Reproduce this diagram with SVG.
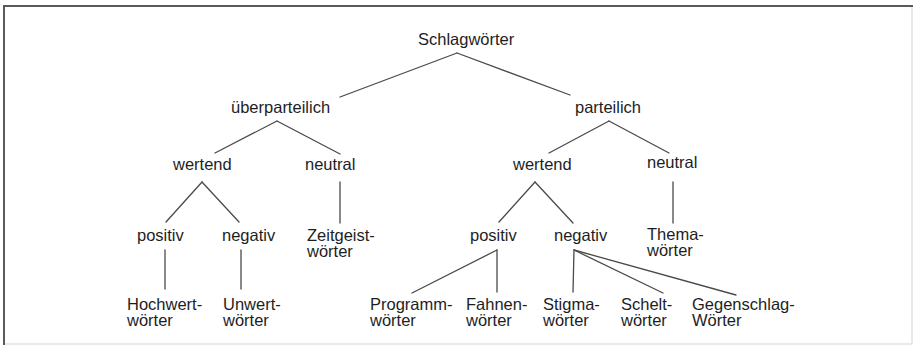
<svg xmlns="http://www.w3.org/2000/svg" width="916" height="355" viewBox="0 0 916 355">
<style>
  text { font-family: "Liberation Sans", Arial, Helvetica, sans-serif; font-size: 16.5px; fill: #1e1e1e; }
  .edge { stroke: #4a4a4a; stroke-width: 1.3; fill: none; stroke-linecap: round; }
  .frameDark { stroke: #5a5a5a; stroke-width: 2; fill: none; }
  .frameLight { stroke: #e2e2e2; stroke-width: 1.5; fill: none; }
</style>
<rect x="0" y="0" width="916" height="355" fill="#ffffff"/>
<g id="frame">
  <line class="frameLight" x1="912" y1="6" x2="912" y2="344"/>
  <line class="frameLight" x1="4" y1="344" x2="912" y2="344"/>
  <line class="frameDark" x1="4" y1="6" x2="913" y2="6"/>
  <line class="frameDark" x1="4" y1="5" x2="4" y2="345"/>
</g>
<g id="connectors">
  <line class="edge" x1="457" y1="53" x2="340" y2="97"/>
  <line class="edge" x1="457" y1="53" x2="570" y2="95"/>
  <line class="edge" x1="277" y1="121" x2="215" y2="153"/>
  <line class="edge" x1="277" y1="121" x2="340" y2="154"/>
  <line class="edge" x1="609" y1="121" x2="549" y2="153"/>
  <line class="edge" x1="609" y1="121" x2="669" y2="153"/>
  <line class="edge" x1="202" y1="182" x2="166" y2="222"/>
  <line class="edge" x1="202" y1="182" x2="239" y2="222"/>
  <line class="edge" x1="340" y1="182" x2="340" y2="223"/>
  <line class="edge" x1="535" y1="182" x2="499" y2="222"/>
  <line class="edge" x1="535" y1="182" x2="573" y2="223"/>
  <line class="edge" x1="673" y1="182" x2="673" y2="223"/>
  <line class="edge" x1="165" y1="250" x2="165" y2="289"/>
  <line class="edge" x1="241" y1="250" x2="241" y2="289"/>
  <line class="edge" x1="497" y1="250" x2="412" y2="293"/>
  <line class="edge" x1="497" y1="250" x2="497" y2="292"/>
  <line class="edge" x1="574" y1="250" x2="573" y2="292"/>
  <line class="edge" x1="574" y1="250" x2="663" y2="293"/>
  <line class="edge" x1="574" y1="250" x2="736" y2="295"/>
</g>
<g id="schlagwoerter"><text x="418" y="45">Schlagwörter</text></g>
<g id="ueberparteilich"><text x="231" y="113">überparteilich</text></g>
<g id="parteilich"><text x="575" y="113">parteilich</text></g>
<g id="wertend-l"><text x="173" y="170">wertend</text></g>
<g id="neutral-l"><text x="305" y="170">neutral</text></g>
<g id="wertend-r"><text x="513" y="170">wertend</text></g>
<g id="neutral-r"><text x="647" y="168">neutral</text></g>
<g id="positiv-l"><text x="137" y="241">positiv</text></g>
<g id="negativ-l"><text x="222" y="241">negativ</text></g>
<g id="zeitgeist"><text x="307" y="241">Zeitgeist-<tspan x="307" dy="16">wörter</tspan></text></g>
<g id="positiv-r"><text x="470" y="241">positiv</text></g>
<g id="negativ-r"><text x="554" y="241">negativ</text></g>
<g id="thema"><text x="647" y="240">Thema-<tspan x="647" dy="16">wörter</tspan></text></g>
<g id="hochwert"><text x="127" y="310">Hochwert-<tspan x="127" dy="16">wörter</tspan></text></g>
<g id="unwert"><text x="223" y="310">Unwert-<tspan x="223" dy="16">wörter</tspan></text></g>
<g id="programm"><text x="370" y="310">Programm-<tspan x="370" dy="16">wörter</tspan></text></g>
<g id="fahnen"><text x="466" y="310">Fahnen-<tspan x="466" dy="16">wörter</tspan></text></g>
<g id="stigma"><text x="543" y="310">Stigma-<tspan x="543" dy="16">wörter</tspan></text></g>
<g id="schelt"><text x="621" y="310">Schelt-<tspan x="621" dy="16">wörter</tspan></text></g>
<g id="gegenschlag"><text x="692" y="310">Gegenschlag-<tspan x="692" dy="16">Wörter</tspan></text></g>
</svg>
